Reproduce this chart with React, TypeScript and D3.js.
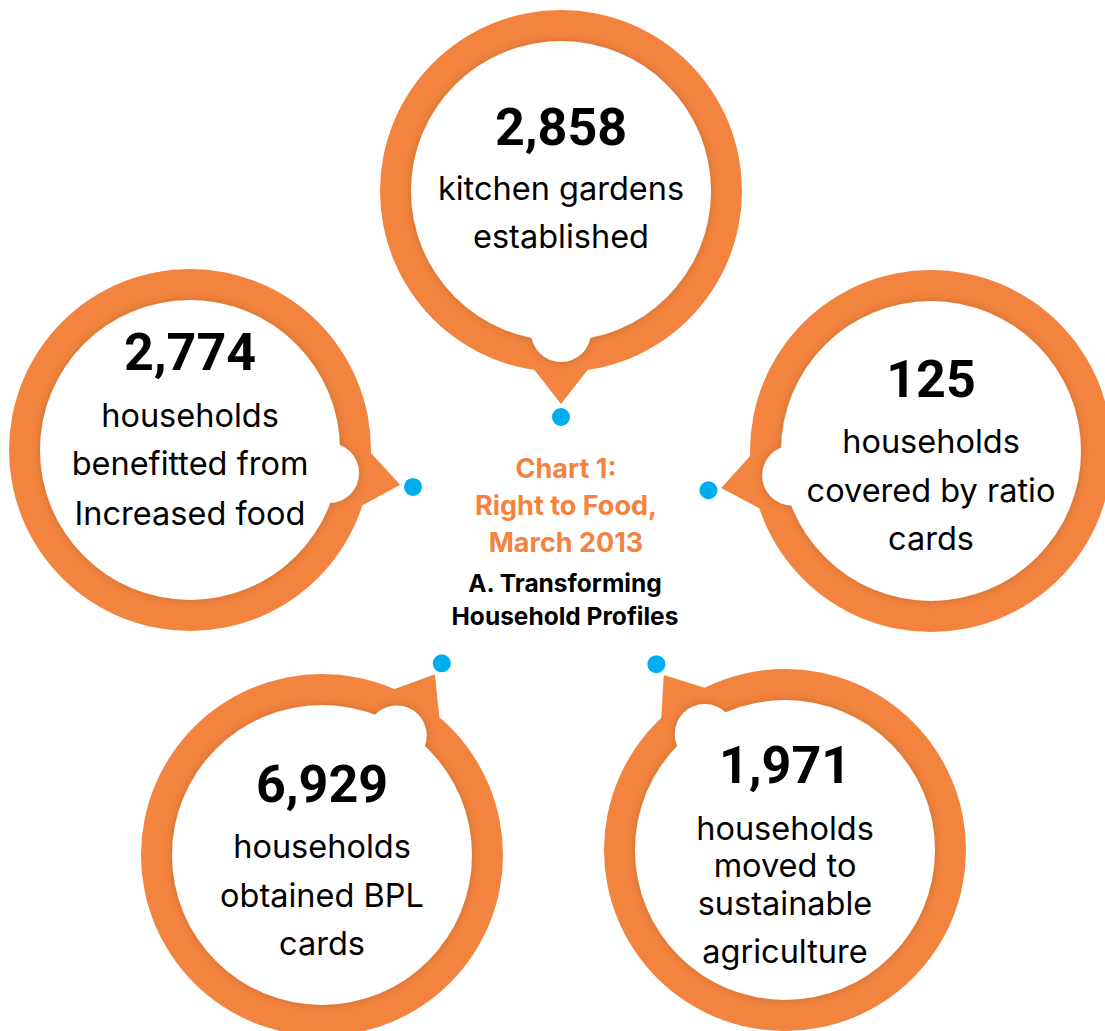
import React from "react";
import * as d3 from "d3";

// ---- data ----
const values: number[] = [2858, 2774, 125, 6929, 1971];
const labels: string[][] = [
  ["kitchen gardens", "established"],
  ["households", "benefitted from", "Increased food"],
  ["households", "covered by ratio", "cards"],
  ["households", "obtained BPL", "cards"],
  ["households", "moved to", "sustainable", "agriculture"],
];
const titleLines: string[] = ["Chart 1:", "Right to Food,", "March 2013"];
const subtitleLines: string[] = ["A. Transforming", "Household Profiles"];

// ---- layout (geometry, not data) ----
const W = 1105;
const H = 1031;
const layout = [
  { cx: 561, cy: 191, angle: 90, numY: -46, lineY: [9, 57] },
  { cx: 190, cy: 450, angle: 9.4, numY: -80, lineY: [-23, 25, 75] },
  { cx: 931, cy: 451, angle: 170, numY: -54, lineY: [2, 51, 99] },
  { cx: 322, cy: 855, angle: -58, numY: -53, lineY: [3, 52, 100] },
  { cx: 785, cy: 850, angle: -124.7, numY: -67, lineY: [-10, 27, 65, 113] },
];

const ORANGE = "#F2843F";
const BLUE = "#00AEEF";
const R_OUT = 181;
const R_IN = 150;
const TIP = 213;
const DOT = 226;
const BUMP_D = 141;
const BUMP_R = 30;
const HALF_APEX = 38;
const EDGE = 58;

const fmt = d3.format(",");
const NUM_FONT = "Roboto, 'Noto Sans', sans-serif";
const FONT = "Inter, 'Open Sans', sans-serif";

function Bubble({ i }: { i: number }) {
  const L = layout[i];
  const a = (L.angle * Math.PI) / 180;
  const ux = Math.cos(a), uy = Math.sin(a);
  const tip: [number, number] = [L.cx + ux * TIP, L.cy + uy * TIP];
  const back = a + Math.PI;
  const h = (HALF_APEX * Math.PI) / 180;
  const p1: [number, number] = [tip[0] + Math.cos(back - h) * EDGE, tip[1] + Math.sin(back - h) * EDGE];
  const p2: [number, number] = [tip[0] + Math.cos(back + h) * EDGE, tip[1] + Math.sin(back + h) * EDGE];
  const tri = d3.line()([tip, p1, p2]) + "Z";
  const dot = [L.cx + ux * DOT, L.cy + uy * DOT];
  const bump = [L.cx + ux * BUMP_D, L.cy + uy * BUMP_D];
  return (
    <g>
      <circle cx={L.cx} cy={L.cy} r={R_OUT} fill={ORANGE} />
      <path d={tri} fill={ORANGE} />
      <g filter="url(#innerShadow)">
        <circle cx={L.cx} cy={L.cy} r={R_IN} fill="#fff" />
        <circle cx={bump[0]} cy={bump[1]} r={BUMP_R} fill="#fff" />
      </g>
      <circle cx={dot[0]} cy={dot[1]} r={9} fill={BLUE} />
      <text
        x={L.cx}
        y={L.cy + L.numY}
        textAnchor="middle"
        fontFamily={NUM_FONT}
        fontWeight={700}
        fontSize={52}
        fill="#000"
      >
        {fmt(values[i])}
      </text>
      {labels[i].map((t, j) => (
        <text
          key={j}
          x={L.cx}
          y={L.cy + L.lineY[j]}
          textAnchor="middle"
          fontFamily={FONT}
          fontSize={32.5}
          fill="#000"
        >
          {t}
        </text>
      ))}
    </g>
  );
}

export default function App() {
  const cx = 566;
  return (
    <svg
      width={W}
      height={H}
      viewBox={`0 0 ${W} ${H}`}
      style={{ position: "absolute", left: 0, top: 0, background: "#fff" }}
    >
      <defs>
        <filter id="innerShadow" x="-20%" y="-20%" width="140%" height="140%">
          <feDropShadow dx="0" dy="0" stdDeviation="4" floodColor="#7a3a10" floodOpacity="0.35" />
        </filter>
      </defs>
      <rect width={W} height={H} fill="#fff" />
      {values.map((_, i) => (
        <Bubble key={i} i={i} />
      ))}
      {titleLines.map((t, j) => (
        <text
          key={"t" + j}
          x={cx}
          y={478 + j * 37}
          textAnchor="middle"
          fontFamily={FONT}
          fontWeight={700}
          fontSize={27}
          fill={ORANGE}
        >
          {t}
        </text>
      ))}
      {subtitleLines.map((t, j) => (
        <text
          key={"s" + j}
          x={cx - 1}
          y={592 + j * 33}
          textAnchor="middle"
          fontFamily={FONT}
          fontWeight={700}
          fontSize={24.5}
          fill="#000"
        >
          {t}
        </text>
      ))}
    </svg>
  );
}
